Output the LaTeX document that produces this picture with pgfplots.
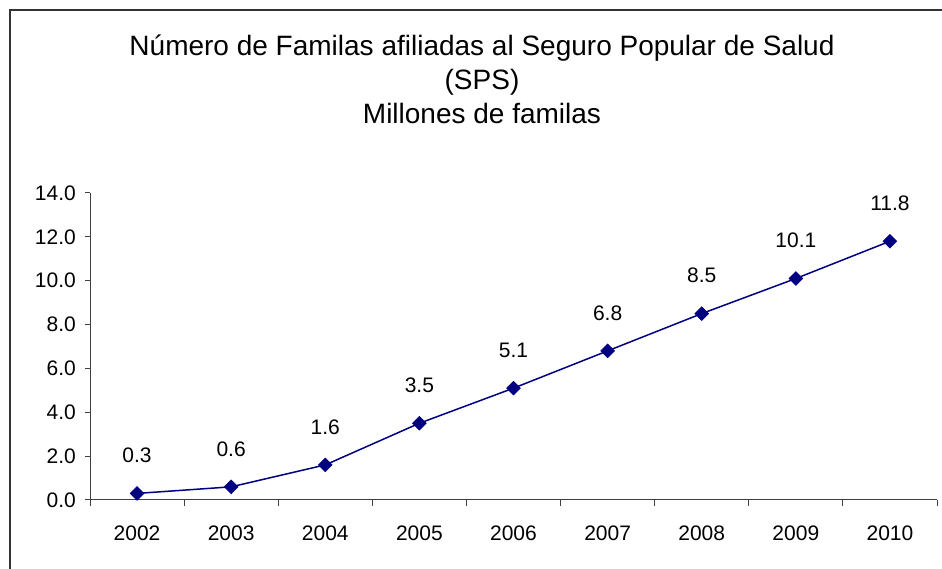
\documentclass[border=0pt]{standalone}
\usepackage{pgfplots}
\pgfplotsset{compat=1.18}
\usepackage{fontspec}
\setmainfont{Liberation Sans}
\definecolor{navyline}{HTML}{000080}
\begin{document}
\begin{tikzpicture}[x=1pt,y=1pt]
\useasboundingbox (0,0) rectangle (942,569);
\draw[line width=1.5pt, black!80] (10,-30) -- (10,559) -- (980,559);
\node[font=\fontsize{28}{34}\selectfont, anchor=base] at (482,569-56) {Número de Familas afiliadas al Seguro Popular de Salud};
\node[font=\fontsize{28}{34}\selectfont, anchor=base] at (482,569-90) {(SPS)};
\node[font=\fontsize{28}{34}\selectfont, anchor=base] at (482,569-124) {Millones de familas};
\begin{axis}[
  at={(90pt,69pt)}, anchor=south west,
  scale only axis, width=847pt, height=307pt,
  xmin=0, xmax=9, ymin=0, ymax=14,
  axis lines*=left,
  axis line style={black!75, line width=1pt},
  xtick={0.5,1.5,...,8.5},
  xticklabels={2002,2003,2004,2005,2006,2007,2008,2009,2010},
  minor xtick={0,1,...,9},
  ytick={0,2,...,14},
  tick align=outside,
  major tick length=5pt, minor tick length=6pt,
  major x tick style={draw=none},
  minor x tick style={black!75, line width=1pt},
  ytick style={black!75, line width=1pt},
  /pgf/number format/assume math mode=true,
  yticklabel={\pgfmathprintnumber[fixed,fixed zerofill,precision=1]{\tick}},
  tick label style={font=\fontsize{21}{25}\selectfont},
  typeset ticklabels with strut=false,
  yticklabel style={anchor=east, inner sep=0pt, xshift=-9pt},
  xticklabel style={anchor=base, inner sep=0pt, yshift=-36pt},
  nodes near coords={\pgfmathprintnumber[fixed,fixed zerofill,precision=1,assume math mode=true]{\pgfplotspointmeta}},
  nodes near coords style={anchor=center, inner sep=0pt, yshift=38pt, font=\fontsize{21}{25}\selectfont, text=black},
  clip=false,
]
\addplot[color=navyline, line width=1.5pt, mark=square*, mark size=4.9pt, mark options={rotate=45, fill=navyline, draw=navyline, line width=0.5pt}]
coordinates {(0.5,0.3) (1.5,0.6) (2.5,1.6) (3.5,3.5) (4.5,5.1) (5.5,6.8) (6.5,8.5) (7.5,10.1) (8.5,11.8)};
\end{axis}
\end{tikzpicture}
\end{document}
